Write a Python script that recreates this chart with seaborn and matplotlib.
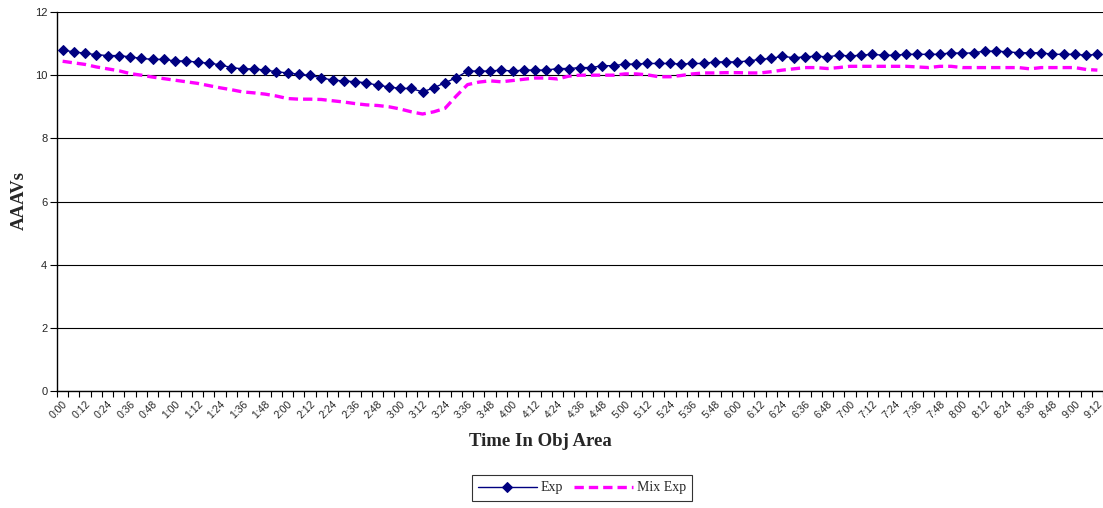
import matplotlib
matplotlib.use("Agg")
import matplotlib.pyplot as plt
import seaborn as sns
import pandas as pd
from matplotlib.ticker import FixedLocator

# ---- data ----
n_points = 93
time_labels = [f"{(i*6)//60}:{(i*6)%60:02d}" for i in range(n_points)]

exp_values = [
    10.79, 10.74, 10.69, 10.65, 10.62, 10.62, 10.58, 10.53, 10.50, 10.50,
    10.45, 10.45, 10.41, 10.38, 10.33, 10.24, 10.20, 10.20, 10.16, 10.11,
    10.07, 10.03, 9.99, 9.92, 9.84, 9.82, 9.79, 9.76, 9.68, 9.63,
    9.58, 9.58, 9.47, 9.60, 9.76, 9.92, 10.13, 10.13, 10.13, 10.16,
    10.13, 10.16, 10.16, 10.16, 10.21, 10.21, 10.24, 10.24, 10.30, 10.30,
    10.35, 10.35, 10.37, 10.37, 10.37, 10.35, 10.37, 10.37, 10.42, 10.42,
    10.42, 10.45, 10.50, 10.53, 10.60, 10.55, 10.58, 10.60, 10.58, 10.63,
    10.61, 10.63, 10.66, 10.63, 10.63, 10.66, 10.66, 10.66, 10.66, 10.71,
    10.69, 10.71, 10.76, 10.76, 10.74, 10.71, 10.71, 10.71, 10.66, 10.66,
    10.66, 10.63, 10.66,
]

mix_exp_values = [
    10.44, 10.39, 10.34, 10.26, 10.20, 10.14, 10.05, 10.00, 9.94, 9.89,
    9.84, 9.79, 9.74, 9.67, 9.60, 9.54, 9.47, 9.44, 9.40, 9.34,
    9.26, 9.24, 9.24, 9.23, 9.19, 9.15, 9.10, 9.06, 9.04, 9.00,
    8.93, 8.84, 8.77, 8.84, 8.95, 9.34, 9.70, 9.78, 9.82, 9.79,
    9.83, 9.87, 9.91, 9.91, 9.88, 9.97, 10.00, 10.00, 10.00, 10.00,
    10.04, 10.04, 10.01, 9.95, 9.95, 9.99, 10.04, 10.07, 10.07, 10.08,
    10.08, 10.07, 10.07, 10.11, 10.16, 10.20, 10.24, 10.24, 10.21, 10.24,
    10.28, 10.28, 10.28, 10.28, 10.28, 10.28, 10.26, 10.24, 10.28, 10.28,
    10.24, 10.24, 10.24, 10.24, 10.24, 10.24, 10.20, 10.24, 10.24, 10.24,
    10.24, 10.18, 10.16,
]

series_names = ["Exp", "Mix Exp"]
y_ticks = [0, 2, 4, 6, 8, 10, 12]

df = pd.DataFrame({
    "idx": list(range(n_points)),
    "time": time_labels,
    "Exp": exp_values,
    "Mix Exp": mix_exp_values,
})

# ---- figure ----
sns.set_style("white")
plt.rcParams["font.family"] = ["Liberation Sans", "DejaVu Sans"]

W, H = 1103, 508
fig = plt.figure(figsize=(W / 100, H / 100), dpi=100)
left_px, right_px, top_px, bottom_px = 57, 1103, 12, 391
ax = fig.add_axes([left_px / W, 1 - bottom_px / H,
                   (right_px - left_px) / W, (bottom_px - top_px) / H])

sns.lineplot(data=df, x="idx", y="Exp", ax=ax, color="#000080", linewidth=1.0,
             marker="D", markersize=5.6, markeredgecolor="#000080",
             markerfacecolor="#000080", label=series_names[0], zorder=3)
sns.lineplot(data=df, x="idx", y="Mix Exp", ax=ax, color="#FF00FF", linewidth=2.4,
             linestyle=(0, (2.8, 1.5)), dash_capstyle="butt",
             label=series_names[1], zorder=2)

ax.set_xlim(-0.5, n_points - 0.5)
ax.set_ylim(0, 12)
ax.set_yticks(y_ticks)
ax.set_yticklabels([str(t) for t in y_ticks], fontsize=8)
ax.yaxis.grid(True, color="black", linewidth=0.8)
ax.set_axisbelow(True)

label_pos = list(range(0, n_points, 2))
ax.set_xticks(label_pos)
ax.set_xticklabels([time_labels[i] for i in label_pos], rotation=45,
                   ha="right", va="top", rotation_mode="anchor", fontsize=7.5)
ax.tick_params(axis="x", which="major", length=0, pad=6)
ax.xaxis.set_minor_locator(FixedLocator([i - 0.5 for i in range(n_points + 1)]))
ax.tick_params(axis="x", which="minor", length=4, width=0.8, color="black",
               direction="out", bottom=True)
ax.tick_params(axis="y", which="major", length=5, width=0.8, color="black",
               direction="out", left=True, pad=2)

for s in ["top", "right"]:
    ax.spines[s].set_visible(False)
for s in ["left", "bottom"]:
    ax.spines[s].set_color("black")
    ax.spines[s].set_linewidth(1.0)

ax.set_xlabel("")
ax.set_ylabel("")
fig.text(540 / W, 1 - 441 / H, "Time In Obj Area", ha="center", va="center",
         fontsize=13.5, fontweight="bold", family=["Liberation Serif", "DejaVu Serif"])
fig.text(19 / W, 1 - 200 / H, "AAAVs", ha="center", va="center", rotation=90,
         fontsize=13.5, fontweight="bold", family=["Liberation Serif", "DejaVu Serif"])

handles, labels = ax.get_legend_handles_labels()
ax.get_legend().remove()
leg = fig.legend(handles, labels, loc="center", bbox_to_anchor=(582 / W, 1 - 488 / H),
                 ncol=2, frameon=True, fancybox=False, edgecolor="black",
                 prop={"family": ["Liberation Serif", "DejaVu Serif"], "size": 10},
                 handlelength=4.2, columnspacing=0.8, handletextpad=0.3,
                 borderpad=0.45, borderaxespad=0)
leg.get_frame().set_linewidth(0.8)

fig.savefig("out.png", dpi=100)
